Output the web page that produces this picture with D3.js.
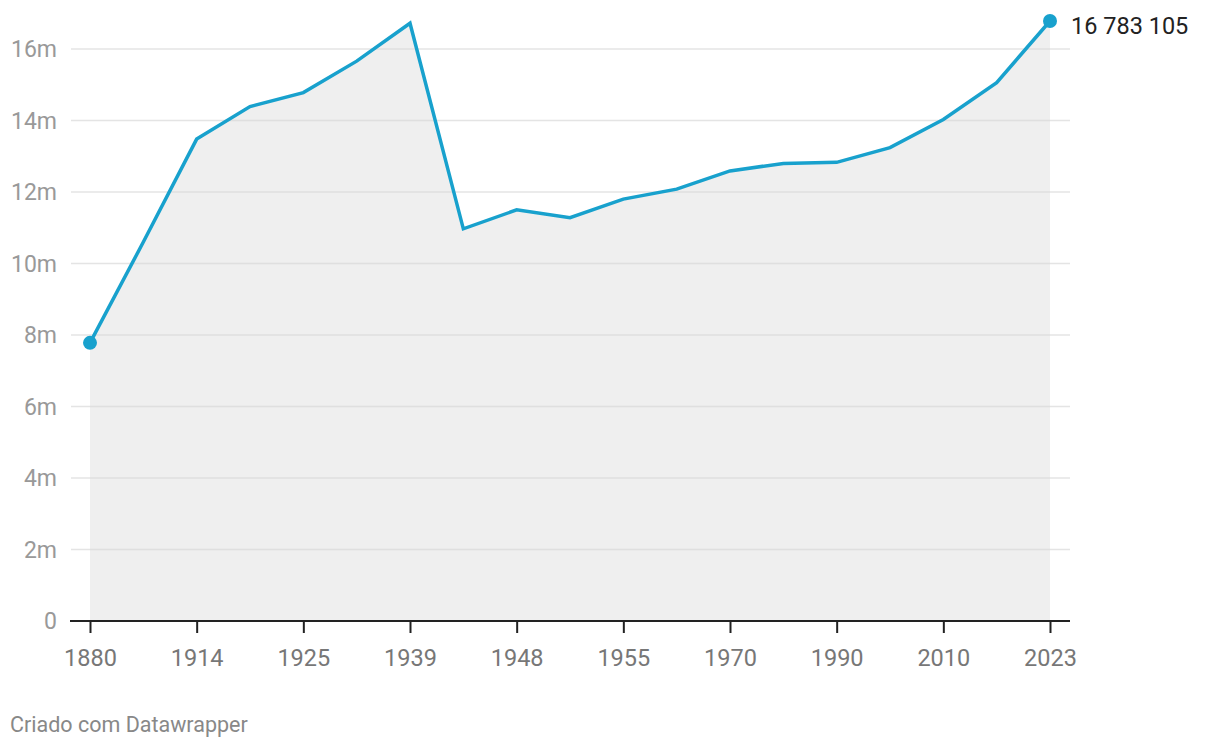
<!DOCTYPE html>
<html><head><meta charset="utf-8">
<script src="https://cdn.jsdelivr.net/npm/d3@7"></script>
<style>
html,body{margin:0;padding:0;background:#fff;}
svg{display:block;font-family:Roboto,"Noto Sans",sans-serif;}
</style></head>
<body>
<svg id="chart" width="1220" height="748"></svg>
<script>
// Data: 19 equally spaced points; only the 10 labelled years are readable in the reference.
// NOTE: the unlabelled in-between category names ("1900","1919","1933","1946","1950","1964",
// "1981","2000","2015") are PLACEHOLDER guesses, not read from the chart; they are never displayed.
// Values are estimated from the picture (millions); the last value is the labelled 16 783 105.
const years = ["1880","1900","1914","1919","1925","1933","1939","1946","1948","1950","1955","1964","1970","1981","1990","2000","2010","2015","2023"];
const population = [7.78, 10.6, 13.48, 14.39, 14.78, 15.66, 16.72, 10.97, 11.50, 11.28, 11.80, 12.08, 12.59, 12.80, 12.83, 13.24, 14.03, 15.06, 16.783105];
const tickYears = ["1880","1914","1925","1939","1948","1955","1970","1990","2010","2023"];
const yTicks = [0, 2, 4, 6, 8, 10, 12, 14, 16];
const lastLabel = "16 783 105";
const footer = "Criado com Datawrapper";

const svg = d3.select("#chart");
const x = d3.scalePoint().domain(years).range([90, 1050]);
const y = d3.scaleLinear().domain([0, 16]).range([621, 49]);
const blue = "#18a1cd";

const data = years.map((yr, i) => ({yr, v: population[i]}));

// area
svg.append("path").datum(data)
  .attr("fill", "#efefef")
  .attr("d", d3.area().x(d => x(d.yr)).y0(y(0)).y1(d => y(d.v)));

// gridlines
svg.append("g").selectAll("line").data(yTicks.filter(d => d > 0)).join("line")
  .attr("x1", 71).attr("x2", 1070)
  .attr("y1", d => y(d)).attr("y2", d => y(d))
  .attr("stroke", "#d8d8d8").attr("stroke-width", 1.5).attr("stroke-opacity", 0.7);

// y labels
svg.append("g").selectAll("text").data(yTicks).join("text")
  .attr("x", 57).attr("y", d => y(d) + 8)
  .attr("text-anchor", "end").attr("fill", "#999").attr("font-size", 23)
  .text(d => d === 0 ? "0" : d + "m");

// x axis
const xAxis = d3.axisBottom(x).tickValues(tickYears).tickSize(12).tickPadding(0);
const gx = svg.append("g").attr("transform", `translate(0,${y(0)})`).call(xAxis);
gx.select(".domain").attr("d", "M70,0H1070").attr("stroke", "#222").attr("stroke-width", 2);
gx.selectAll(".tick line").attr("stroke", "#222").attr("stroke-width", 2);
gx.selectAll(".tick text").attr("fill", "#777").attr("font-size", 23.5)
  .attr("font-family", "Roboto,'Noto Sans',sans-serif")
  .attr("dy", null).attr("y", 45);

// line
svg.append("path").datum(data)
  .attr("fill", "none").attr("stroke", blue).attr("stroke-width", 3.5)
  .attr("stroke-linejoin", "miter")
  .attr("d", d3.line().x(d => x(d.yr)).y(d => y(d.v)));

// end dots
const ends = [data[0], data[data.length - 1]];
svg.append("g").selectAll("circle").data(ends).join("circle")
  .attr("cx", d => x(d.yr)).attr("cy", d => y(d.v)).attr("r", 7).attr("fill", blue);

// value label
svg.append("text")
  .attr("x", x(years[years.length - 1]) + 21).attr("y", 34)
  .attr("fill", "#222").attr("font-size", 23.5).text(lastLabel);

// footer
svg.append("text").attr("x", 10).attr("y", 732)
  .attr("fill", "#888").attr("font-size", 21.5).text(footer);
</script>
</body></html>
